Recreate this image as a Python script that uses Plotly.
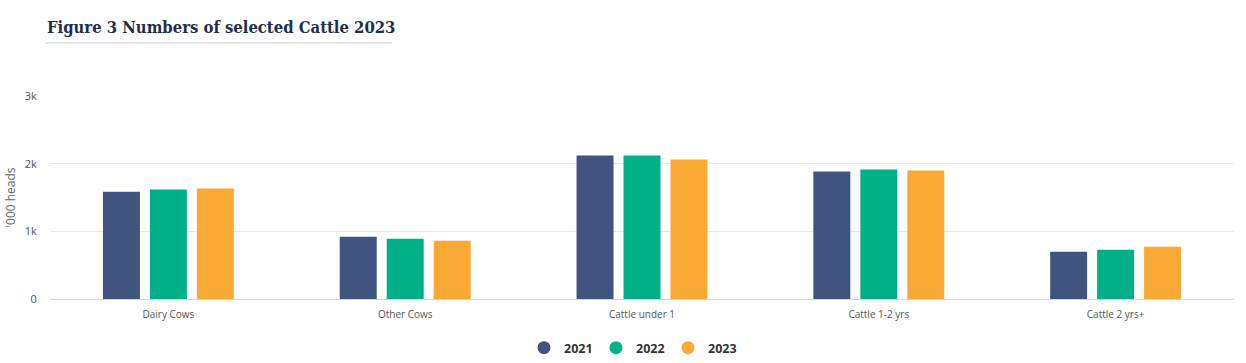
import plotly.graph_objects as go

categories = ["Dairy Cows", "Other Cows", "Cattle under 1", "Cattle 1-2 yrs", "Cattle 2 yrs+"]
years = ["2021", "2022", "2023"]
values_2021 = [1585, 920, 2122, 1884, 697]
values_2022 = [1617, 890, 2122, 1914, 727]
values_2023 = [1632, 861, 2062, 1899, 771]
series = [values_2021, values_2022, values_2023]
colors = ["#41537f", "#00b086", "#faa935"]
ytick_vals = [0, 1000, 2000, 3000]
ytick_text = ["0", "1k", "2k", "3k"]

W, H = 1246, 363
L, R, T, B = 50, 12, 96, 64
ph = H - T - B
pw = W - L - R

fig = go.Figure()
for yr, vals, c in zip(years, series, colors):
    fig.add_trace(go.Bar(x=categories, y=vals, name=yr, marker_color=c,
                         marker_line_width=0, showlegend=False,
                         hovertemplate="%{x}<br>" + yr + ": %{y}<extra></extra>"))
for yr, c in zip(years, colors):
    fig.add_trace(go.Scatter(x=[None], y=[None], mode="markers", name=yr,
                             marker=dict(symbol="circle", size=13, color=c)))

fig.update_layout(
    width=W, height=H,
    margin=dict(l=L, r=R, t=T, b=B, autoexpand=False),
    paper_bgcolor="white", plot_bgcolor="white",
    barmode="group", bargap=0.405, bargroupgap=0.213,
    font=dict(family="Open Sans, sans-serif", color="#666666"),
    showlegend=True,
    legend=dict(orientation="h", xref="container", yref="container",
                x=632 / W, xanchor="center", y=1 - 348 / H, yanchor="middle",
                font=dict(family="Open Sans, sans-serif", size=12.5, color="#333333", weight="bold"),
                itemwidth=30, tracegroupgap=0, entrywidth=27, entrywidthmode="pixels"),
    xaxis=dict(showgrid=False, showline=True, linecolor="#ccd6eb", linewidth=1,
               ticks="outside", ticklen=6, tickcolor="rgba(0,0,0,0)",
               tickfont=dict(size=10, color="#555555"), fixedrange=True, automargin=False),
    yaxis=dict(range=[0, 3000], tickvals=ytick_vals, ticktext=ytick_text,
               showgrid=True, gridcolor="#e6e6e6", gridwidth=1, zeroline=False,
               showline=False, ticks="outside", ticklen=10, tickcolor="rgba(0,0,0,0)",
               tickfont=dict(size=11, color="#555555"),
               title=dict(text="'000 heads", font=dict(size=12, color="#666666"), standoff=6),
               fixedrange=True, automargin=False),
)

fig.add_annotation(text="<b>Figure 3 Numbers of selected Cattle 2023</b>",
                   xref="paper", yref="paper", x=(45 - L) / pw, y=(299 - 27) / ph,
                   xanchor="left", yanchor="middle", showarrow=False,
                   font=dict(family="DejaVu Serif Condensed, DejaVu Serif, serif", size=16.5, color="#1f2d4e"))
fig.add_shape(type="line", xref="paper", yref="paper",
              x0=(45 - L) / pw, x1=(392 - L) / pw, y0=(299 - 43) / ph, y1=(299 - 43) / ph,
              line=dict(color="#c8cdd6", width=1))

fig.write_html("out.html", config={"displayModeBar": False},
               post_script="document.body.style.margin='0';document.body.style.overflow='hidden';")
